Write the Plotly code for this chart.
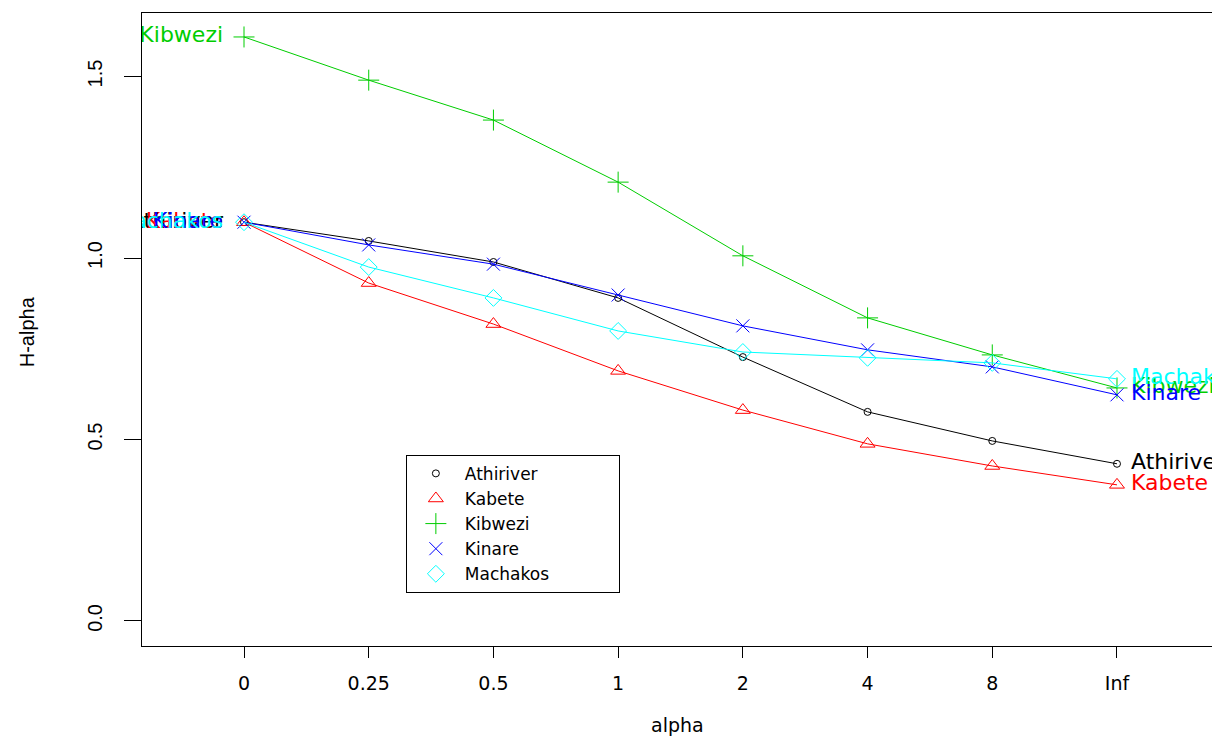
import plotly.graph_objects as go

alpha_labels = ["0", "0.25", "0.5", "1", "2", "4", "8", "Inf"]
sites = ["Athiriver", "Kabete", "Kibwezi", "Kinare", "Machakos"]
athiriver = [1.0986, 1.047, 0.989, 0.890, 0.727, 0.576, 0.496, 0.433]
kabete = [1.0986, 0.931, 0.818, 0.689, 0.581, 0.488, 0.427, 0.375]
kibwezi = [1.609, 1.490, 1.380, 1.209, 1.006, 0.835, 0.733, 0.642]
kinare = [1.0986, 1.036, 0.983, 0.898, 0.813, 0.747, 0.700, 0.623]
machakos = [1.0986, 0.975, 0.890, 0.799, 0.741, 0.725, 0.711, 0.667]
y_ticks = [0.0, 0.5, 1.0, 1.5]
y_ticktext = ["0.0", "0.5", "1.0", "1.5"]

series = [athiriver, kabete, kibwezi, kinare, machakos]
colors = ["#000000", "#FF0000", "#00CD00", "#0000FF", "#00FFFF"]
symbols = ["circle-open", "triangle-up-open", "cross-thin-open", "x-thin-open", "diamond-open"]
msizes = [7, 13, 15, 13, 13]

HFONT = "DejaVu Sans"
VFONT = "Liberation Sans, Arial"

fig = go.Figure()

for name, vals, c, s, ms in zip(sites, series, colors, symbols, msizes):
    fig.add_trace(go.Scatter(
        x=alpha_labels, y=vals, mode="lines+markers", name=name,
        line=dict(color=c, width=1),
        marker=dict(symbol=s, size=ms, color=c, line=dict(color=c, width=1)),
        showlegend=False, cliponaxis=True,
    ))

# end labels (left at alpha=0, right at alpha=Inf), clipped by the plot area
for name, vals, c in zip(sites, series, colors):
    fig.add_trace(go.Scatter(
        x=[alpha_labels[0]], y=[vals[0]], mode="text",
        text=[name + "\u00a0\u00a0\u00a0"], textposition="middle left",
        textfont=dict(family=HFONT, size=22, color=c),
        showlegend=False, cliponaxis=True, hoverinfo="skip",
    ))
for name, vals, c in zip(sites, series, colors):
    fig.add_trace(go.Scatter(
        x=[alpha_labels[-1]], y=[vals[-1]], mode="text",
        text=["\u00a0\u00a0" + name], textposition="middle right",
        textfont=dict(family=HFONT, size=22, color=c),
        showlegend=False, cliponaxis=True, hoverinfo="skip",
    ))

# legend entries (symbols only)
pad = "\u00a0" * 12
for name, c, s, ms in zip(sites, colors, symbols, msizes):
    fig.add_trace(go.Scatter(
        x=[None], y=[None], mode="markers", name=name + pad,
        marker=dict(symbol=s, size=ms, color=c, line=dict(color=c, width=1)),
        showlegend=True,
    ))

fig.update_layout(
    width=1212, height=730,
    margin=dict(l=134, r=1, t=5, b=92),
    paper_bgcolor="white", plot_bgcolor="white",
    showlegend=True,
    legend=dict(
        x=0.245, y=0.302, xanchor="left", yanchor="top",
        bordercolor="#000000", borderwidth=1, bgcolor="white",
        font=dict(family=HFONT, size=17, color="#000000"),
        itemsizing="trace", itemwidth=48,
    ),
    xaxis=dict(
        type="category", categoryorder="array", categoryarray=alpha_labels,
        range=[-0.818, 7.818], showgrid=False, zeroline=False,
        showline=True, linecolor="#000000", linewidth=1, mirror=True,
        ticks="outside", ticklen=11, tickcolor="#000000", tickwidth=1,
        tickfont=dict(family=HFONT, size=19, color="#000000"),
        ticklabelstandoff=9,
    ),
    yaxis=dict(
        range=[-0.069, 1.675], showgrid=False, zeroline=False,
        tickvals=y_ticks, ticktext=y_ticktext,
        showline=True, linecolor="#000000", linewidth=1, mirror=True,
        ticks="outside", ticklen=17, tickcolor="#000000", tickwidth=1,
        tickangle=-90,
        tickfont=dict(family=VFONT, size=20, color="#000000"),
        ticklabelstandoff=14,
    ),
    annotations=[
        dict(text="alpha", xref="paper", yref="paper", x=0.497, y=-0.125,
             xanchor="center", yanchor="middle", showarrow=False,
             font=dict(family=HFONT, size=19, color="#000000")),
        dict(text="H-alpha", xref="paper", yref="paper", x=-0.106, y=0.497,
             xanchor="center", yanchor="middle", showarrow=False, textangle=-90,
             font=dict(family=VFONT, size=20, color="#000000")),
    ],
)

fig.write_html("out.html")
